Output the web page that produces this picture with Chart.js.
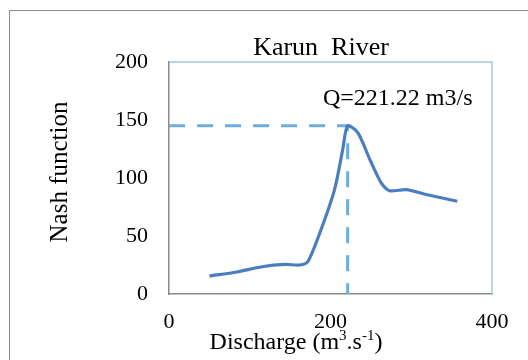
<!DOCTYPE html>
<html>
<head>
<meta charset="utf-8">
<script src="https://cdn.jsdelivr.net/npm/chart.js@4/dist/chart.umd.min.js"></script>
<style>
  html, body { margin: 0; padding: 0; background: #fff; overflow: hidden; }
  #wrap { position: relative; width: 528px; height: 360px; }
  #frame { position: absolute; left: 9px; top: 10px; width: 600px; height: 400px;
           border: 1.5px solid #8e8e8e; box-sizing: border-box; pointer-events: none; }
  canvas { position: absolute; left: 0; top: 0; }
</style>
</head>
<body>
<div id="wrap">
  <div id="frame"></div>
  <canvas id="c" width="528" height="360"></canvas>
</div>
<script>
// Discharge (m3/s) and Nash function values along the curve
const discharge = [50, 84, 115, 144, 162, 172, 188, 205, 215, 221.22, 234, 249, 263, 273, 294, 317, 357];
const nash      = [15.5, 19, 23.5, 25.5, 25, 28, 55, 90, 124, 145, 139, 115.5, 95.5, 89, 90, 86, 80];

// Optimum marker
const peakQ = 221.22;
const peakNash = 145;

const xTicks = [0, 200, 400];
const yTicks = [0, 50, 100, 150, 200];

const serif = '"Liberation Serif", "Times New Roman", serif';

const curve = discharge.map((q, i) => ({ x: q, y: nash[i] }));
const marker = [
  { x: 0, y: peakNash },
  { x: peakQ, y: peakNash },
  { x: peakQ, y: 0 }
];

const textPlugin = {
  id: 'texts',
  afterDraw(chart) {
    const ctx = chart.ctx;
    const a = chart.chartArea;
    ctx.save();
    // plot-area frame (top and right edges)
    ctx.strokeStyle = '#a9c3e6';
    ctx.lineWidth = 1.5;
    ctx.beginPath();
    ctx.moveTo(a.left, a.top);
    ctx.lineTo(a.right, a.top);
    ctx.lineTo(a.right, a.bottom);
    ctx.stroke();

    ctx.fillStyle = '#000';
    ctx.textBaseline = 'alphabetic';

    ctx.textAlign = 'center';
    ctx.font = '26px ' + serif;
    ctx.fillText('Karun  River', 321, 55);

    ctx.textAlign = 'left';
    ctx.font = '24px ' + serif;
    ctx.fillText('Q=221.22 m3/s', 323, 105);

    // x-axis title with superscripts
    const y = 349;
    const parts = [
      ['Discharge (m', 24, 0],
      ['3', 15, -9],
      ['.s', 24, 0],
      ['-1', 15, -9],
      [')', 24, 0]
    ];
    let total = 0;
    parts.forEach(p => { ctx.font = p[1] + 'px ' + serif; total += ctx.measureText(p[0]).width; });
    let x = 296 - total / 2;
    parts.forEach(p => {
      ctx.font = p[1] + 'px ' + serif;
      ctx.fillText(p[0], x, y + p[2]);
      x += ctx.measureText(p[0]).width;
    });

    // y-axis title
    ctx.font = '25px ' + serif;
    ctx.translate(67, 172);
    ctx.rotate(-Math.PI / 2);
    ctx.textAlign = 'center';
    ctx.fillText('Nash function', 0, 0);
    ctx.restore();
  }
};

new Chart(document.getElementById('c'), {
  type: 'scatter',
  data: {
    datasets: [
      {
        data: marker,
        showLine: true,
        borderColor: '#6fade0',
        borderWidth: 3,
        borderDash: [16, 12],
        pointRadius: 0,
        tension: 0,
        order: 2
      },
      {
        data: curve,
        showLine: true,
        borderColor: '#4a7ebf',
        borderWidth: 3.2,
        pointRadius: 0,
        tension: 0.25,
        order: 1
      }
    ]
  },
  options: {
    responsive: false,
    animation: false,
    layout: { padding: { left: 0, top: 62, right: 36, bottom: 0 } },
    plugins: { legend: { display: false }, tooltip: { enabled: false }, title: { display: false } },
    scales: {
      x: {
        type: 'linear',
        min: 0, max: 400,
        afterBuildTicks: s => { s.ticks = xTicks.map(v => ({ value: v })); },
        afterFit: s => { s.height = 66; },
        grid: { display: false, drawTicks: false },
        border: { display: true, color: '#8a8a8a', width: 1.5 },
        ticks: { color: '#000', font: { family: serif, size: 22 }, padding: 15, maxRotation: 0 }
      },
      y: {
        min: 0, max: 200,
        afterBuildTicks: s => { s.ticks = yTicks.map(v => ({ value: v })); },
        afterFit: s => { s.width = 169; },
        grid: { display: false, drawTicks: false },
        border: { display: true, color: '#8a8a8a', width: 1.5 },
        ticks: { color: '#000', font: { family: serif, size: 22 }, padding: 21 }
      }
    }
  },
  plugins: [textPlugin]
});
</script>
</body>
</html>
